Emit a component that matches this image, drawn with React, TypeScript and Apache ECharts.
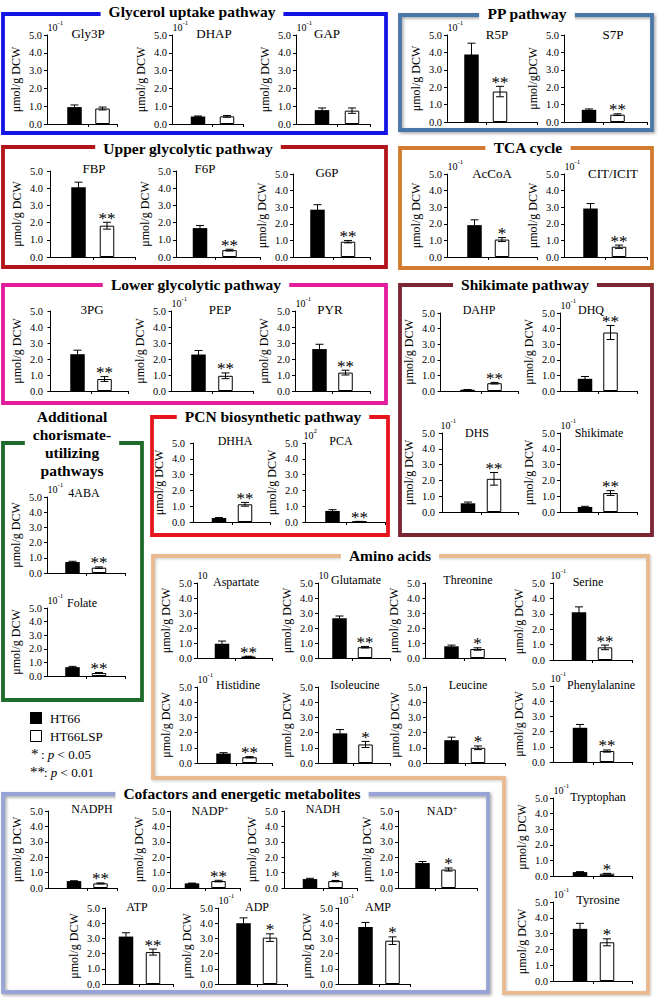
import React, { useEffect, useRef } from 'react';
import * as echarts from 'echarts';

const FONT = "'Liberation Serif','Times New Roman',Times,serif";

// ---------- data ----------
const metabolites = [
  'Gly3P', 'DHAP', 'GAP', 'R5P', 'S7P',
  'FBP', 'F6P', 'G6P', 'AcCoA', 'CIT/ICIT',
  '3PG', 'PEP', 'PYR', 'DAHP', 'DHQ', 'DHS', 'Shikimate',
  '4ABA', 'Folate', 'DHHA', 'PCA',
  'Aspartate', 'Glutamate', 'Threonine', 'Serine',
  'Histidine', 'Isoleucine', 'Leucine', 'Phenylalanine', 'Tryptophan', 'Tyrosine',
  'NADPH', 'NADP+', 'NADH', 'NAD+', 'ATP', 'ADP', 'AMP',
];
const ht66 = [
  0.95, 0.42, 0.78, 3.88, 0.70,
  4.05, 1.68, 2.85, 1.92, 2.92,
  2.30, 2.28, 2.62, 0.08, 0.78, 0.55, 0.32,
  0.72, 0.65, 0.25, 0.70,
  0.95, 2.65, 0.78, 3.10,
  0.62, 1.95, 1.50, 2.25, 0.25, 3.30,
  0.45, 0.30, 0.58, 1.62, 3.12, 4.00, 3.75,
];
const ht66Err = [
  0.12, 0.03, 0.12, 0.65, 0.05,
  0.30, 0.15, 0.30, 0.32, 0.30,
  0.25, 0.25, 0.30, 0.01, 0.15, 0.08, 0.04,
  0.05, 0.06, 0.03, 0.08,
  0.18, 0.15, 0.08, 0.35,
  0.06, 0.25, 0.20, 0.22, 0.03, 0.35,
  0.02, 0.02, 0.05, 0.10, 0.25, 0.35, 0.30,
];
const ht66lsp = [
  0.87, 0.43, 0.75, 1.75, 0.42,
  1.82, 0.40, 0.92, 1.05, 0.62,
  0.75, 0.95, 1.15, 0.50, 3.75, 2.10, 1.20,
  0.35, 0.22, 1.12, 0.03,
  0.10, 0.72, 0.60, 0.82,
  0.38, 1.22, 1.00, 0.72, 0.15, 2.45,
  0.30, 0.45, 0.45, 1.20, 2.10, 3.05, 2.85,
];
const ht66lspErr = [
  0.08, 0.05, 0.15, 0.30, 0.05,
  0.20, 0.05, 0.07, 0.12, 0.10,
  0.15, 0.18, 0.15, 0.05, 0.45, 0.40, 0.15,
  0.05, 0.04, 0.12, 0.01,
  0.02, 0.05, 0.08, 0.15,
  0.04, 0.20, 0.12, 0.07, 0.02, 0.22,
  0.03, 0.05, 0.04, 0.10, 0.20, 0.25, 0.25,
];
const significance = [
  '', '', '', '**', '**',
  '**', '**', '**', '*', '**',
  '**', '**', '**', '**', '**', '**', '**',
  '**', '**', '**', '**',
  '**', '**', '*', '**',
  '**', '*', '*', '**', '*', '*',
  '**', '**', '*', '*', '**', '*', '*',
];
const scaleBase = [
  '10', '10', '10', '10', '',
  '', '', '', '10', '10',
  '', '10', '10', '', '10', '10', '10',
  '10', '10', '', '10',
  '10', '10', '', '10',
  '10', '', '', '10', '10', '10',
  '', '', '', '', '', '10', '10',
];
const scaleExp = [
  '-1', '-1', '-1', '-1', '',
  '', '', '', '-1', '-1',
  '', '-1', '-1', '', '-1', '-1', '-1',
  '-1', '-1', '', '2',
  '', '', '', '-1',
  '-1', '', '', '-1', '-1', '-1',
  '', '', '', '', '', '-1', '-1',
];
const yTicks = [0, 1, 2, 3, 4, 5];
const unitLabel = 'μmol/g DCW';
const unitLabelS7P = 'μmol/gDCW';
const legendNames = ['HT66', 'HT66LSP'];

// ---------- layout: [axisX, top(5.0), axisEndX, bottom(0.0), firstBarOffset, barSpacing, titleX, titleY, titleSize]
const layout: number[][] = [
  [47, 35, 117, 124, 27.5, 28, 88, 33, 13],
  [172, 35, 243, 124, 26, 29, 214, 33, 13],
  [296, 35, 370, 124, 26, 30, 327, 33, 13],
  [447, 35, 537, 122, 24.5, 28.5, 497, 34, 13],
  [564, 35, 647, 122, 25, 28.5, 613, 34, 13],
  [48, 171, 135, 257, 30.5, 28.5, 94, 168, 13],
  [176, 171, 260, 257, 24, 29.5, 205, 168, 13],
  [293, 174, 370, 257, 24.5, 30.5, 327, 172, 13],
  [447, 174, 537, 257, 27.5, 27.5, 492, 173, 13],
  [564, 174, 647, 257, 26.5, 28.5, 613, 173, 13],
  [48, 311, 128, 391, 29.5, 27, 92, 309, 13],
  [171, 311, 253, 391, 27.5, 27, 220, 309, 13],
  [295, 311, 370, 391, 24.5, 26, 330, 309, 13],
  [440, 313, 518, 391, 27.5, 27, 479, 310, 12],
  [560, 313, 637, 391, 25, 25.5, 591, 310, 12],
  [440, 433, 518, 512, 28, 26, 477, 433, 12],
  [560, 433, 637, 512, 25, 25.5, 599, 433, 12],
  [47, 497, 125, 573, 25.5, 26.5, 84, 493, 12],
  [47, 608, 125, 676, 25.5, 26.5, 82, 603, 12],
  [190, 443, 270, 522, 29, 26, 235, 441, 12],
  [303, 443, 385, 522, 29.5, 27, 341, 441, 12],
  [197, 583, 272, 658, 25, 26.5, 236, 582, 12],
  [318, 583, 390, 658, 21.5, 25.5, 356, 580, 12],
  [425, 583, 505, 658, 26.5, 26, 468, 580, 12],
  [550, 583, 632, 660, 29, 26, 588, 582, 12],
  [197, 687, 272, 763, 26.5, 26, 238, 685, 12],
  [318, 687, 390, 763, 22, 25.5, 355, 685, 12],
  [426, 687, 505, 763, 25.5, 26.5, 468, 685, 12],
  [550, 686, 632, 762, 30, 27, 601, 685, 12],
  [553, 798, 632, 876, 27, 27, 598, 797, 12],
  [553, 902, 632, 981, 27, 27, 598, 900, 12.5],
  [48, 811, 117, 888, 26, 26.5, 92, 809, 12],
  [170, 811, 240, 888, 22, 26.5, 210, 811, 12],
  [283, 811, 357, 888, 27, 25.5, 323, 809, 12],
  [398, 811, 477, 888, 24.5, 26, 442, 811, 12],
  [105, 908, 173, 984, 21, 27, 137, 907, 12],
  [218, 908, 287, 984, 25.5, 26.5, 257, 907, 12],
  [338, 908, 410, 984, 27.5, 27, 378, 907, 12],
];

// boxes: [x, y, w, h, color, title, titleX, titleY, shadow]
const boxes: any[] = [
  [3, 14, 383, 119, '#1414e6', 'Glycerol uptake pathway', 192, 11, false],
  [400, 15, 252, 115, '#4a78a8', 'PP pathway', 527, 13, true],
  [3, 147, 383, 120, '#b3141c', 'Upper glycolytic pathway', 188, 148, false],
  [400, 148, 252, 120, '#d27a2e', 'TCA cycle', 528, 147, false],
  [3, 285, 383, 118, '#e31c9e', 'Lower glycolytic pathway', 196, 284, false],
  [400, 285, 252, 250, '#7b2632', 'Shikimate pathway', 525, 284, false],
  [152, 417, 236, 118, '#e8161c', 'PCN biosynthetic pathway', 273, 416, false],
  [3, 443, 139, 257, '#1e6b2c', 'Additional\nchorismate-\nutilizing\npathways', 72, 443, false],
  [3, 794, 485, 198, '#98a4d6', 'Cofactors and energetic metabolites', 242, 793, true],
];
const aminoOutline = [[153, 556], [648, 556], [648, 993], [504, 993], [504, 778], [153, 778]];

function buildOption() {
  const grid: any[] = [];
  const xAxis: any[] = [];
  const yAxis: any[] = [];
  const series: any[] = [];
  const graphic: any[] = [];

  // boxes
  boxes.forEach((b) => {
    const [x, y, w, h, color, , , , shadow] = b;
    graphic.push({
      type: 'rect', z: 1, shape: { x, y, width: w, height: h },
      style: {
        fill: 'none', stroke: color, lineWidth: 3.8,
        ...(shadow ? { shadowBlur: 3, shadowColor: 'rgba(0,0,0,0.35)', shadowOffsetX: 1.5, shadowOffsetY: 1.5 } : {}),
      },
    });
  });
  graphic.push({
    type: 'polygon', z: 1, shape: { points: aminoOutline },
    style: { fill: 'none', stroke: '#e9b990', lineWidth: 3.8, shadowBlur: 3, shadowColor: 'rgba(0,0,0,0.2)', shadowOffsetX: 1, shadowOffsetY: 1 },
  });
  const boxTitles = boxes.map((b) => [b[5], b[6], b[7]]).concat([['Amino acids', 390, 555]]);
  boxTitles.forEach(([t, x, y]) => {
    graphic.push({
      type: 'text', z: 10, x, y,
      style: {
        text: t, fontFamily: FONT, fontSize: 15.5, fontWeight: 'bold', fill: '#000',
        align: 'center', verticalAlign: 'middle', textAlign: 'center', textVerticalAlign: 'middle',
        lineHeight: 18, backgroundColor: '#fff', padding: [0, 8],
      },
    });
  });

  metabolites.forEach((name, i) => {
    const [x0, yTop, xEnd, yBot, bOff, gap, tx, ty, tSize] = layout[i];
    const xMin = 1 - bOff / gap;
    const xMax = xMin + (xEnd - x0) / gap;
    grid.push({ left: x0, top: yTop, width: xEnd - x0, height: yBot - yTop, containLabel: false });
    xAxis.push({
      gridIndex: i, type: 'value', min: xMin, max: xMax,
      axisLine: { show: true, onZero: false, lineStyle: { color: '#000', width: 1 } },
      axisTick: { show: true, length: 3, customValues: [1.5, xMax], lineStyle: { color: '#000' } },
      axisLabel: { show: false }, splitLine: { show: false },
    });
    yAxis.push({
      gridIndex: i, type: 'value', min: yTicks[0], max: yTicks[yTicks.length - 1], interval: 1,
      name: name === 'S7P' ? unitLabelS7P : unitLabel,
      nameLocation: 'middle', nameGap: 25,
      nameTextStyle: { fontFamily: FONT, fontSize: 12, color: '#000' },
      axisLine: { show: true, lineStyle: { color: '#000', width: 1 } },
      axisTick: { show: true, length: 3, lineStyle: { color: '#000' } },
      axisLabel: { formatter: (v: number) => v.toFixed(1), fontFamily: FONT, fontSize: 10.5, color: '#000', margin: 5 },
      splitLine: { show: false },
    });
    series.push({
      type: 'bar', name: metabolites[i], xAxisIndex: i, yAxisIndex: i, barWidth: 14.5, z: 2,
      data: [
        { value: [1, ht66[i]], name: legendNames[0], itemStyle: { color: '#000' } },
        { value: [2, ht66lsp[i]], name: legendNames[1], itemStyle: { color: '#fff', borderColor: '#000', borderWidth: 1 } },
      ],
    });
    const sig = significance[i];
    series.push({
      type: 'custom', xAxisIndex: i, yAxisIndex: i, z: 5, clip: false,
      data: [[1, ht66[i], ht66Err[i]], [2, ht66lsp[i], ht66lspErr[i]]],
      renderItem: (params: any, api: any) => {
        const x = api.value(0), v = api.value(1), e = api.value(2);
        const top = api.coord([x, v + e]);
        const bot = api.coord([x, Math.max(0, v - e)]);
        const ls = { stroke: '#000', lineWidth: 1 };
        const children: any[] = [
          { type: 'line', shape: { x1: top[0], y1: top[1], x2: bot[0], y2: bot[1] }, style: ls },
          { type: 'line', shape: { x1: top[0] - 4, y1: top[1], x2: top[0] + 4, y2: top[1] }, style: ls },
          { type: 'line', shape: { x1: bot[0] - 4, y1: bot[1], x2: bot[0] + 4, y2: bot[1] }, style: ls },
        ];
        if (params.dataIndex === 1 && sig) {
          children.push({
            type: 'text', x: top[0], y: top[1] - 4,
            style: {
              text: sig, fontFamily: FONT, fontSize: 17, fill: '#000',
              align: 'center', verticalAlign: 'middle', textAlign: 'center', textVerticalAlign: 'middle',
            },
          });
        }
        return { type: 'group', children };
      },
    });

    // panel title
    const sup = name.endsWith('+');
    graphic.push({
      type: 'text', z: 10, x: tx, y: ty,
      style: {
        text: sup ? `${name.slice(0, -1)}{s|+}` : name,
        rich: { s: { fontFamily: FONT, fontSize: 8, padding: [0, 0, 6, 0], fill: '#000' } },
        fontFamily: FONT, fontSize: tSize, fill: '#000',
        align: 'center', verticalAlign: 'middle', textAlign: 'center', textVerticalAlign: 'middle',
      },
    });
    // scale factor
    if (scaleBase[i]) {
      graphic.push({
        type: 'text', z: 10, x: x0 + 0.5, y: yTop - 8,
        style: { text: scaleBase[i], fontFamily: FONT, fontSize: 10, fill: '#000', align: 'left', verticalAlign: 'middle', textAlign: 'left', textVerticalAlign: 'middle' },
      });
      if (scaleExp[i]) {
        graphic.push({
          type: 'text', z: 10, x: x0 + 10.5, y: yTop - 12,
          style: { text: scaleExp[i], fontFamily: FONT, fontSize: 7, fill: '#000', align: 'left', verticalAlign: 'middle', textAlign: 'left', textVerticalAlign: 'middle' },
        });
      }
    }
  });

  // legend
  graphic.push({ type: 'rect', z: 10, shape: { x: 30, y: 712, width: 12, height: 12 }, style: { fill: '#000' } });
  graphic.push({ type: 'rect', z: 10, shape: { x: 30.5, y: 730.5, width: 11, height: 11 }, style: { fill: '#fff', stroke: '#000', lineWidth: 1 } });
  const legTexts: any[] = [
    [legendNames[0], 50, 718],
    [legendNames[1], 50, 736],
  ];
  legTexts.forEach(([t, x, y]) => graphic.push({
    type: 'text', z: 10, x, y,
    style: { text: t, fontFamily: FONT, fontSize: 13, fill: '#000', align: 'left', verticalAlign: 'middle', textAlign: 'left', textVerticalAlign: 'middle' },
  }));
  const sigTexts: any[] = [
    ['*', 31, 754, ': {i|p} < 0.05', 41],
    ['**', 30, 772, ': {i|p} < 0.01', 44],
  ];
  sigTexts.forEach(([s, sx, y, t, tx]) => {
    graphic.push({
      type: 'text', z: 10, x: sx, y: y,
      style: { text: s, fontFamily: FONT, fontSize: 15, fill: '#000', align: 'left', verticalAlign: 'middle', textAlign: 'left', textVerticalAlign: 'middle' },
    });
    graphic.push({
      type: 'text', z: 10, x: tx, y: y,
      style: {
        text: t, fontFamily: FONT, fontSize: 13, fill: '#000', align: 'left', verticalAlign: 'middle', textAlign: 'left', textVerticalAlign: 'middle',
        rich: { i: { fontFamily: FONT, fontSize: 13, fontStyle: 'italic', fill: '#000' } },
      },
    });
  });

  return {
    animation: false,
    backgroundColor: '#fff',
    grid, xAxis, yAxis, series, graphic,
  };
}

export default function App() {
  const ref = useRef<HTMLDivElement>(null);
  useEffect(() => {
    document.body.style.margin = '0';
    const chart = echarts.init(ref.current as HTMLDivElement, null, { renderer: 'svg' });
    chart.setOption(buildOption() as any);
    return () => chart.dispose();
  }, []);
  return <div ref={ref} style={{ width: 658, height: 998 }} />;
}
